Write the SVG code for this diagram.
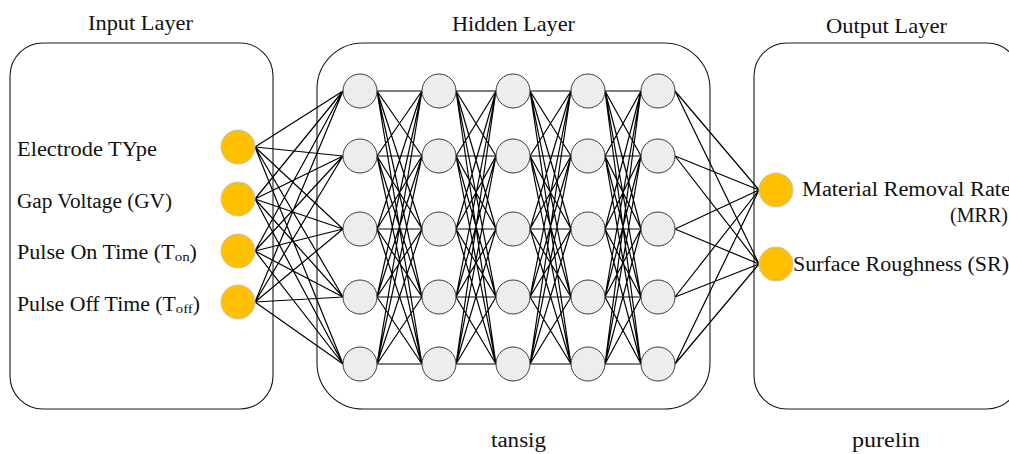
<svg xmlns="http://www.w3.org/2000/svg" width="1009" height="454" viewBox="0 0 1009 454">
  <style>
    .frame { fill: none; stroke: #1a1a1a; stroke-width: 1.1; }
    .wire { fill: none; stroke: #000; stroke-width: 1.2; }
    .io { fill: #FFC000; stroke: #C4C4C4; stroke-width: 1; }
    .hid { fill: #EDEDED; stroke: #3a3a3a; stroke-width: 1; }
    text { font-family: "Liberation Serif", "Times New Roman", serif; fill: #111; }
    .lbl { font-size: 20px; }
    .hdr { font-size: 21px; }
    .sub { font-size: 13.5px; }
  </style>

  <!-- layer frames -->
  <g id="frames">
    <rect id="input-frame" class="frame" x="10" y="43" width="263" height="366" rx="33" ry="33"/>
    <rect id="hidden-frame" class="frame" x="317" y="43" width="393" height="366" rx="46" ry="46"/>
    <rect id="output-frame" class="frame" x="754" y="43" width="266" height="366" rx="33" ry="33"/>
  </g>

  <!-- fully connected links between layers -->
  <g id="connectors" class="wire">
    <!-- inputs to hidden column 1 -->
    <path d="M255 147L343 91M255 147L343 156M255 147L343 229M255 147L343 297M255 147L343 364
             M255 199L343 91M255 199L343 156M255 199L343 229M255 199L343 297M255 199L343 364
             M255 251L343 91M255 251L343 156M255 251L343 229M255 251L343 297M255 251L343 364
             M255 302L343 91M255 302L343 156M255 302L343 229M255 302L343 297M255 302L343 364"/>
    <!-- hidden column 1 to 2 -->
    <path d="M377 91L422 91M377 91L422 156M377 91L422 229M377 91L422 297M377 91L422 364
             M377 156L422 91M377 156L422 156M377 156L422 229M377 156L422 297M377 156L422 364
             M377 229L422 91M377 229L422 156M377 229L422 229M377 229L422 297M377 229L422 364
             M377 297L422 91M377 297L422 156M377 297L422 229M377 297L422 297M377 297L422 364
             M377 364L422 91M377 364L422 156M377 364L422 229M377 364L422 297M377 364L422 364"/>
    <!-- hidden column 2 to 3 -->
    <path d="M456 91L496 91M456 91L496 156M456 91L496 229M456 91L496 297M456 91L496 364
             M456 156L496 91M456 156L496 156M456 156L496 229M456 156L496 297M456 156L496 364
             M456 229L496 91M456 229L496 156M456 229L496 229M456 229L496 297M456 229L496 364
             M456 297L496 91M456 297L496 156M456 297L496 229M456 297L496 297M456 297L496 364
             M456 364L496 91M456 364L496 156M456 364L496 229M456 364L496 297M456 364L496 364"/>
    <!-- hidden column 3 to 4 -->
    <path d="M530 91L571 91M530 91L571 156M530 91L571 229M530 91L571 297M530 91L571 364
             M530 156L571 91M530 156L571 156M530 156L571 229M530 156L571 297M530 156L571 364
             M530 229L571 91M530 229L571 156M530 229L571 229M530 229L571 297M530 229L571 364
             M530 297L571 91M530 297L571 156M530 297L571 229M530 297L571 297M530 297L571 364
             M530 364L571 91M530 364L571 156M530 364L571 229M530 364L571 297M530 364L571 364"/>
    <!-- hidden column 4 to 5 -->
    <path d="M605 91L641 91M605 91L641 156M605 91L641 229M605 91L641 297M605 91L641 364
             M605 156L641 91M605 156L641 156M605 156L641 229M605 156L641 297M605 156L641 364
             M605 229L641 91M605 229L641 156M605 229L641 229M605 229L641 297M605 229L641 364
             M605 297L641 91M605 297L641 156M605 297L641 229M605 297L641 297M605 297L641 364
             M605 364L641 91M605 364L641 156M605 364L641 229M605 364L641 297M605 364L641 364"/>
    <!-- hidden column 5 to outputs -->
    <path d="M675 91L759 190M675 91L759 264
             M675 156L759 190M675 156L759 264
             M675 229L759 190M675 229L759 264
             M675 297L759 190M675 297L759 264
             M675 364L759 190M675 364L759 264"/>
  </g>

  <!-- input neurons -->
  <g id="input-electrode"><circle class="io" cx="238" cy="147" r="17"/></g>
  <g id="input-gv"><circle class="io" cx="238" cy="199" r="17"/></g>
  <g id="input-ton"><circle class="io" cx="238" cy="251" r="17"/></g>
  <g id="input-toff"><circle class="io" cx="238" cy="302" r="17"/></g>

  <!-- hidden neurons: 5 columns x 5 rows -->
  <g id="hidden-c1">
    <circle class="hid" cx="360" cy="91" r="17"/><circle class="hid" cx="360" cy="156" r="17"/><circle class="hid" cx="360" cy="229" r="17"/><circle class="hid" cx="360" cy="297" r="17"/><circle class="hid" cx="360" cy="364" r="17"/>
  </g>
  <g id="hidden-c2">
    <circle class="hid" cx="439" cy="91" r="17"/><circle class="hid" cx="439" cy="156" r="17"/><circle class="hid" cx="439" cy="229" r="17"/><circle class="hid" cx="439" cy="297" r="17"/><circle class="hid" cx="439" cy="364" r="17"/>
  </g>
  <g id="hidden-c3">
    <circle class="hid" cx="513" cy="91" r="17"/><circle class="hid" cx="513" cy="156" r="17"/><circle class="hid" cx="513" cy="229" r="17"/><circle class="hid" cx="513" cy="297" r="17"/><circle class="hid" cx="513" cy="364" r="17"/>
  </g>
  <g id="hidden-c4">
    <circle class="hid" cx="588" cy="91" r="17"/><circle class="hid" cx="588" cy="156" r="17"/><circle class="hid" cx="588" cy="229" r="17"/><circle class="hid" cx="588" cy="297" r="17"/><circle class="hid" cx="588" cy="364" r="17"/>
  </g>
  <g id="hidden-c5">
    <circle class="hid" cx="658" cy="91" r="17"/><circle class="hid" cx="658" cy="156" r="17"/><circle class="hid" cx="658" cy="229" r="17"/><circle class="hid" cx="658" cy="297" r="17"/><circle class="hid" cx="658" cy="364" r="17"/>
  </g>

  <!-- output neurons -->
  <g id="output-mrr"><circle class="io" cx="776" cy="190" r="17"/></g>
  <g id="output-sr"><circle class="io" cx="776" cy="264" r="17"/></g>

  <!-- labels -->
  <g id="labels">
    <text class="hdr" x="88" y="30" textLength="105" lengthAdjust="spacingAndGlyphs">Input Layer</text>
    <text class="hdr" x="452" y="31" textLength="123" lengthAdjust="spacingAndGlyphs">Hidden Layer</text>
    <text class="hdr" x="826" y="33" textLength="121" lengthAdjust="spacingAndGlyphs">Output Layer</text>

    <text class="lbl" x="17" y="156" textLength="140" lengthAdjust="spacingAndGlyphs">Electrode TYpe</text>
    <text class="lbl" x="17" y="208" textLength="155" lengthAdjust="spacingAndGlyphs">Gap Voltage (GV)</text>
    <text class="lbl" x="17" y="259" textLength="180" lengthAdjust="spacingAndGlyphs">Pulse On Time (T<tspan class="sub" dy="2">on</tspan><tspan dy="-2">)</tspan></text>
    <text class="lbl" x="17" y="311" textLength="183" lengthAdjust="spacingAndGlyphs">Pulse Off Time (T<tspan class="sub" dy="2">off</tspan><tspan dy="-2">)</tspan></text>

    <text class="lbl" x="802" y="196" textLength="209" lengthAdjust="spacingAndGlyphs">Material Removal Rate</text>
    <text class="lbl" x="950" y="222" textLength="58" lengthAdjust="spacingAndGlyphs">(MRR)</text>
    <text class="lbl" x="793" y="271" textLength="216" lengthAdjust="spacingAndGlyphs">Surface Roughness (SR)</text>

    <text class="lbl" x="491" y="447" textLength="55" lengthAdjust="spacingAndGlyphs">tansig</text>
    <text class="lbl" x="852" y="447" textLength="68" lengthAdjust="spacingAndGlyphs">purelin</text>
  </g>
</svg>
